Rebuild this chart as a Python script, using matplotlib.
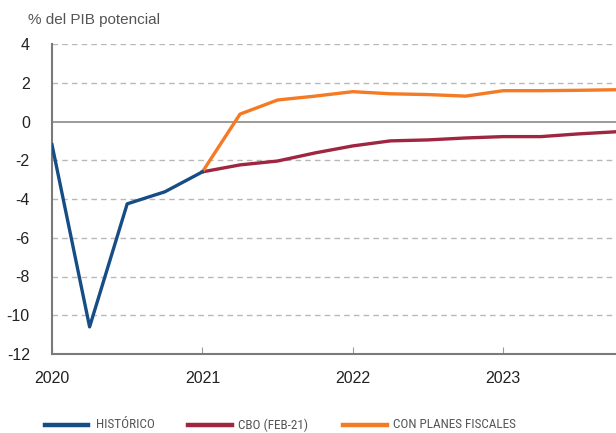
import matplotlib
matplotlib.use("Agg")
import matplotlib.pyplot as plt
from matplotlib.lines import Line2D
from matplotlib import font_manager

# Quarter index from 2020Q1 (0) to 2023Q4 (15)
hist_q = [0, 1, 2, 3, 4]
hist_v = [-1.2, -10.6, -4.25, -3.63, -2.6]

cbo_q = [4, 5, 6, 7, 8, 9, 10, 11, 12, 13, 14, 15]
cbo_v = [-2.6, -2.24, -2.04, -1.62, -1.26, -1.0, -0.95, -0.85, -0.78, -0.78, -0.64, -0.53]

plan_q = [4, 5, 6, 7, 8, 9, 10, 11, 12, 13, 14, 15]
plan_v = [-2.6, 0.38, 1.11, 1.31, 1.54, 1.43, 1.39, 1.31, 1.59, 1.59, 1.61, 1.64]

year_labels = ["2020", "2021", "2022", "2023"]
year_pos = [0, 4, 8, 12]
y_ticks = [4, 2, 0, -2, -4, -6, -8, -10, -12]

legend_labels = ["HISTÓRICO", "CBO (FEB-21)", "CON PLANES FISCALES"]
c_blue, c_red, c_orange = "#154d84", "#9e2640", "#f47a23"

plt.rcParams["font.family"] = ["Liberation Sans", "DejaVu Sans"]

names = {f.name for f in font_manager.fontManager.ttflist}
cond = [n for n in ("Liberation Sans Narrow", "DejaVu Sans Condensed", "Roboto Condensed") if n in names]
leg_family = cond + ["Liberation Sans", "DejaVu Sans"]

fig = plt.figure(figsize=(6.16, 4.33), dpi=100)
ax = fig.add_axes([52/616, 79/433, 1 - 52/616, 310/433])

ax.set_xlim(0, 15)
ax.set_ylim(-12, 4)

for y in y_ticks:
    if y == 0:
        ax.axhline(0, color="#8a8a8a", lw=1.2, zorder=1)
    elif y != -12:
        ax.axhline(y, color="#b8b8b8", lw=1.0, ls=(0, (4, 3)), zorder=1)

lw = 2.4
ax.plot(cbo_q, cbo_v, color=c_red, lw=lw, zorder=3, solid_joinstyle="round")
ax.plot(plan_q, plan_v, color=c_orange, lw=lw, zorder=3, solid_joinstyle="round")
ax.plot(hist_q, hist_v, color=c_blue, lw=lw, zorder=4, solid_joinstyle="round")

for s in ["top", "right"]:
    ax.spines[s].set_visible(False)
for s in ["left", "bottom"]:
    ax.spines[s].set_color("#7a7a7a")
    ax.spines[s].set_linewidth(1.5)

ax.set_yticks(y_ticks)
ax.set_yticklabels([str(v) for v in y_ticks], fontsize=11.5, color="#222222")
ax.tick_params(axis="y", length=0, pad=16)
ax.set_xticks(year_pos)
ax.set_xticklabels(year_labels, fontsize=11.5, color="#222222")
ax.tick_params(axis="x", direction="in", length=5, color="#9a9a9a", pad=12)

fig.text(28/616, 1 - 20/433, "% del PIB potencial", fontsize=11, color="#555555",
         ha="left", va="center")

# legend drawn in figure pixel coordinates
W, H = 616, 433
ly = 1 - 425/H
handle_x = [(45, 88), (188, 232), (343, 387)]
text_x = [96, 238, 393]
for (x0, x1), tx, lab, c in zip(handle_x, text_x, legend_labels, (c_blue, c_red, c_orange)):
    fig.add_artist(Line2D([x0/W, x1/W], [ly, ly], color=c, lw=3.2, transform=fig.transFigure))
    fig.text(tx/W, ly, lab, fontsize=9.5, color="#555555", ha="left", va="center",
             family=leg_family, fontstretch="condensed")

fig.savefig("out.png", dpi=100)
